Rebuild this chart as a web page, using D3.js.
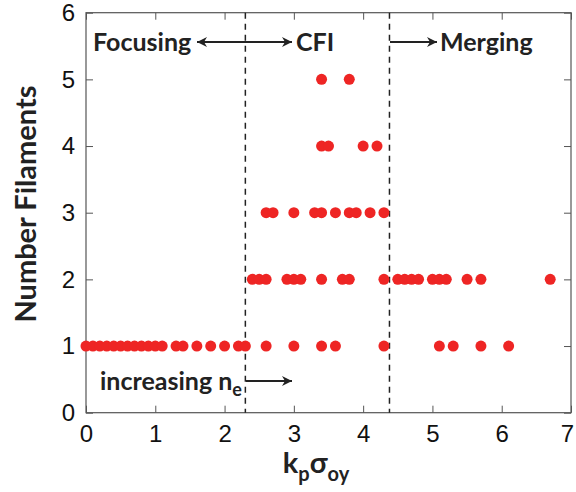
<!DOCTYPE html>
<html>
<head>
<meta charset="utf-8">
<script src="https://cdn.jsdelivr.net/npm/d3@7"></script>
<style>
  body { margin: 0; background: #fff; }
  .tick-label { font-family: "Liberation Sans", Arial, sans-serif; font-size: 24px; fill: #111; }
  .note { font-family: Lato, "Open Sans", sans-serif; font-weight: bold; font-size: 25px; fill: #222; }
</style>
</head>
<body>
<div id="chart"></div>
<script>
// filament counts vs k_p sigma_oy
const row1 = [0, 0.1, 0.2, 0.3, 0.4, 0.5, 0.6, 0.7, 0.8, 0.9, 1.0, 1.1, 1.3, 1.4, 1.6, 1.8, 2.0, 2.2, 2.3, 2.6, 3.0, 3.4, 3.6, 4.3, 5.1, 5.3, 5.7, 6.1];
const row2 = [2.4, 2.5, 2.6, 2.9, 3.0, 3.1, 3.4, 3.7, 3.8, 4.3, 4.5, 4.6, 4.7, 4.8, 5.0, 5.1, 5.2, 5.5, 5.7, 6.7];
const row3 = [2.6, 2.7, 3.0, 3.3, 3.4, 3.6, 3.8, 3.9, 4.1, 4.3];
const row4 = [3.4, 3.5, 4.0, 4.2];
const row5 = [3.4, 3.8];
const boundaries = [2.3, 4.38];
const xTicks = [0, 1, 2, 3, 4, 5, 6, 7];
const yTicks = [0, 1, 2, 3, 4, 5, 6];

const points = [];
[row1, row2, row3, row4, row5].forEach((row, i) => {
    row.forEach(v => points.push({x: v, n: i + 1}));
});

const W = 576, H = 492;
const margin = {left: 86, right: 5, top: 12.7, bottom: 79.3};

const svg = d3.select("#chart").append("svg")
    .attr("width", W)
    .attr("height", H);

const x = d3.scaleLinear().domain([0, 7]).range([margin.left, W - margin.right]);
const y = d3.scaleLinear().domain([0, 6]).range([H - margin.bottom, margin.top]);

const frameColor = "#555";

// axes with inward ticks, mirrored
svg.append("g")
    .attr("transform", "translate(0," + y(0) + ")")
    .call(d3.axisBottom(x).tickValues(xTicks).tickSize(-7).tickPadding(12).tickFormat(d3.format("d")))
    .call(g => g.selectAll("text").attr("class", "tick-label").attr("font-size", null).attr("font-family", null)
        .attr("dx", d => d === 7 ? -4 : 0));
svg.append("g")
    .attr("transform", "translate(0," + y(6) + ")")
    .call(d3.axisTop(x).tickValues(xTicks).tickSize(-7).tickFormat(""));
svg.append("g")
    .attr("transform", "translate(" + x(0) + ",0)")
    .call(d3.axisLeft(y).tickValues(yTicks).tickSize(-7).tickPadding(11).tickFormat(d3.format("d")))
    .call(g => g.selectAll("text").attr("class", "tick-label").attr("font-size", null).attr("font-family", null));
svg.append("g")
    .attr("transform", "translate(" + x(7) + ",0)")
    .call(d3.axisRight(y).tickValues(yTicks).tickSize(-7).tickFormat(""));

svg.selectAll(".domain").remove();
svg.selectAll(".tick line").attr("stroke", frameColor).attr("stroke-width", 1);

svg.append("rect")
    .attr("x", x(0)).attr("y", y(6))
    .attr("width", x(7) - x(0)).attr("height", y(0) - y(6))
    .attr("fill", "none").attr("stroke", frameColor).attr("stroke-width", 1.2);

// region boundaries
svg.selectAll(".boundary")
    .data(boundaries)
    .enter().append("line")
    .attr("x1", d => x(d)).attr("x2", d => x(d))
    .attr("y1", y(6)).attr("y2", y(0))
    .attr("stroke", "#222").attr("stroke-width", 1.5)
    .attr("stroke-dasharray", "6,5");

// points
svg.selectAll(".pt")
    .data(points)
    .enter().append("circle")
    .attr("cx", d => x(d.x))
    .attr("cy", d => y(d.n))
    .attr("r", 5.5)
    .attr("fill", "#ee2524");

// arrows
const defs = svg.append("defs");
defs.append("marker")
    .attr("id", "head")
    .attr("viewBox", "0 0 10 10")
    .attr("refX", 10).attr("refY", 5)
    .attr("markerWidth", 12).attr("markerHeight", 10)
    .attr("markerUnits", "userSpaceOnUse")
    .attr("orient", "auto-start-reverse")
    .append("path")
    .attr("d", "M0,0 L10,5 L0,10 L3,5 Z")
    .attr("fill", "#222");

const arrow = (x1, x2, yy, both) => {
    const l = svg.append("line")
        .attr("x1", x1).attr("x2", x2)
        .attr("y1", yy).attr("y2", yy)
        .attr("stroke", "#222").attr("stroke-width", 2)
        .attr("marker-end", "url(#head)");
    if (both) l.attr("marker-start", "url(#head)");
};

svg.append("text").attr("class", "note").attr("x", 93).attr("y", 51).text("Focusing");
arrow(197, 292, 42, true);
svg.append("text").attr("class", "note").attr("x", 296).attr("y", 51).text("CFI");
arrow(390, 437, 42, false);
svg.append("text").attr("class", "note").attr("x", 440).attr("y", 51).text("Merging");

const inc = svg.append("text").attr("class", "note").attr("x", 100).attr("y", 390);
inc.append("tspan").text("increasing n");
inc.append("tspan").attr("font-size", 18).attr("dy", 6).text("e");
arrow(246, 292, 381, false);

// axis titles
const xt = svg.append("text")
    .attr("x", x(3.32)).attr("y", 473)
    .attr("text-anchor", "middle")
    .attr("font-family", "Lato, 'Open Sans', sans-serif")
    .attr("font-weight", "bold")
    .attr("font-size", 29)
    .attr("fill", "#222");
xt.append("tspan").text("k");
xt.append("tspan").attr("font-size", 20).attr("dy", 8).text("p");
xt.append("tspan").attr("dy", -8).text("σ");
xt.append("tspan").attr("font-size", 20).attr("dy", 8).text("oy");

svg.append("text")
    .attr("transform", "translate(36," + y(3.13) + ") rotate(-90)")
    .attr("text-anchor", "middle")
    .attr("font-family", "Lato, 'Open Sans', sans-serif")
    .attr("font-weight", "bold")
    .attr("font-size", 29)
    .attr("fill", "#222")
    .text("Number Filaments");
</script>
</body>
</html>
